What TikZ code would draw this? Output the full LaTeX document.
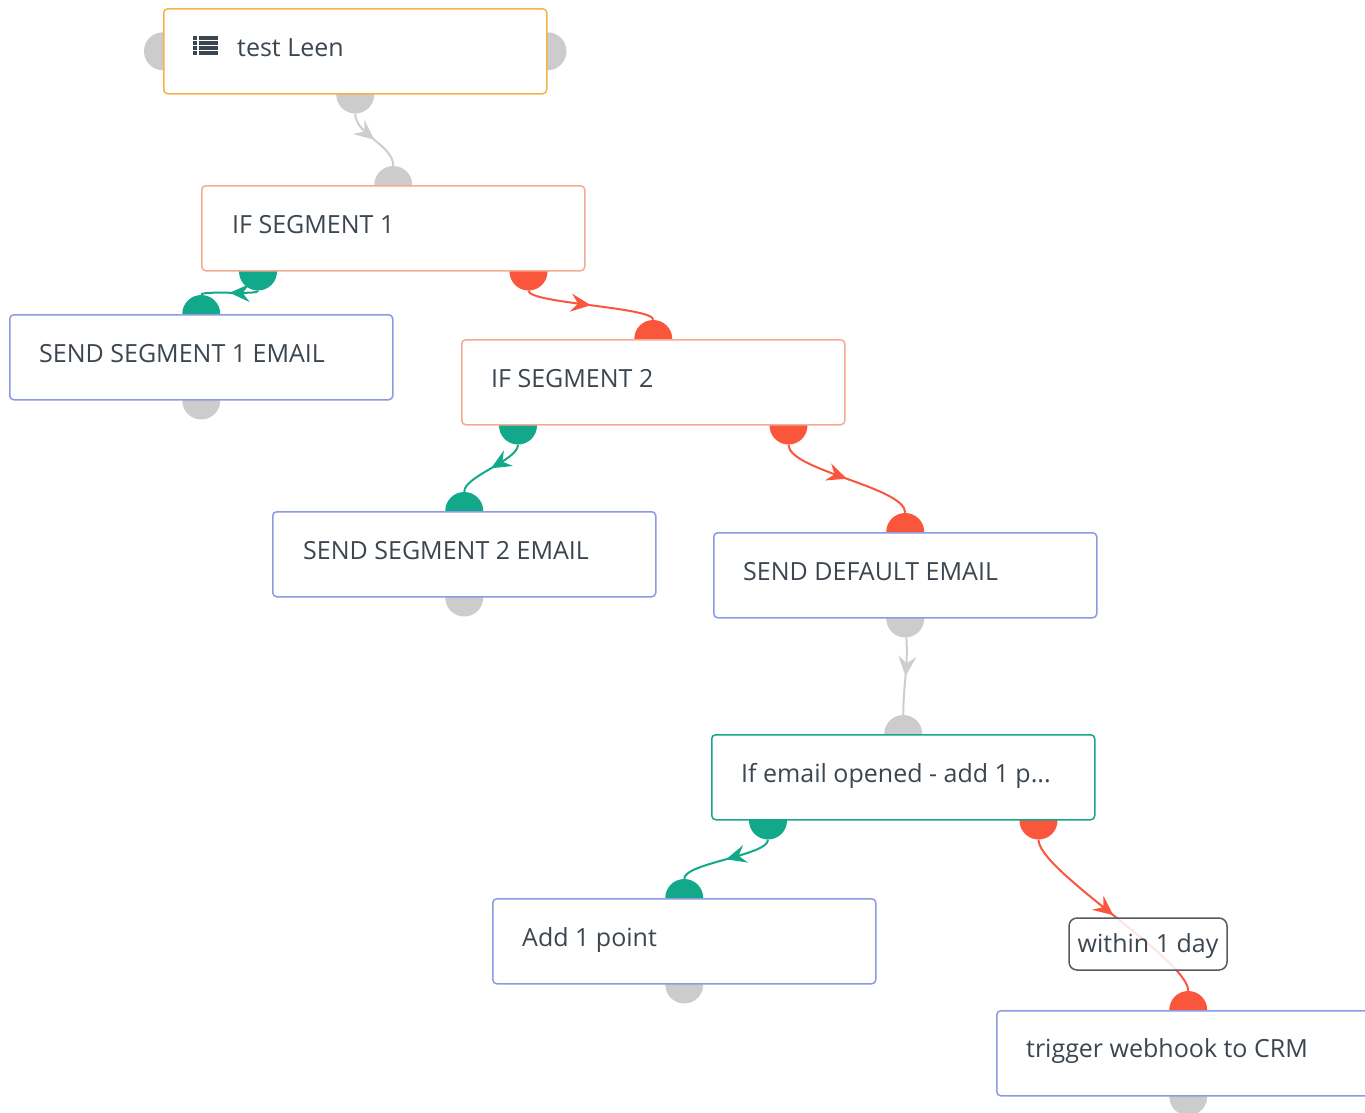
\documentclass[tikz,border=0pt]{standalone}
\usepackage{fontspec}
\setmainfont{Open Sans}
\usetikzlibrary{arrows.meta,decorations.markings,calc}
\definecolor{cgreen}{RGB}{18,168,138}
\definecolor{cred}{RGB}{250,86,60}
\definecolor{cgray}{RGB}{204,204,204}
\definecolor{cline}{RGB}{205,205,205}
\definecolor{ctext}{RGB}{60,70,80}
\definecolor{borange}{RGB}{245,180,70}
\definecolor{bsalmon}{RGB}{245,170,145}
\definecolor{bblue}{RGB}{140,155,225}
\definecolor{bteal}{RGB}{25,165,135}
\definecolor{blabel}{RGB}{85,90,96}
\pgfdeclarelayer{bg}
\pgfsetlayers{bg,main}
\begin{document}
\begin{tikzpicture}[x=1pt,y=-1pt,
  card/.style={draw, fill=white, line width=1.5pt, rounded corners=4pt, minimum width=383pt, minimum height=85pt, anchor=north west, inner sep=0pt},
  txt/.style={anchor=base west, text=ctext, font=\fontsize{25}{30}\selectfont, inner sep=0pt},
  port/.style={circle, minimum size=38pt, inner sep=0pt, draw=none},
  conn/.style={line width=2pt, decoration={markings, mark=at position 0.5 with {\arrow{Stealth[length=20pt,width=18pt,inset=7pt]}}}, postaction=decorate},
  lbl/.style={draw=blabel, line width=1.5pt, rounded corners=8pt, fill=white, fill opacity=0.85, text opacity=1, text=ctext, font=\fontsize{25}{30}\selectfont, minimum width=158pt, minimum height=52pt, inner sep=0pt, text height=20pt, text depth=4pt},
]
\useasboundingbox (0,0) rectangle (1365,1112);
% cards
\node[card, draw=borange] (n1) at (163,8) {};
\node[card, draw=bsalmon] (n2) at (201,185) {};
\node[card, draw=bblue] (n3) at (9,314) {};
\node[card, draw=bsalmon] (n4) at (461,339) {};
\node[card, draw=bblue] (n5) at (272,511) {};
\node[card, draw=bblue] (n6) at (713,532) {};
\node[card, draw=bteal] (n7) at (711,734) {};
\node[card, draw=bblue] (n8) at (492,898) {};
\node[card, draw=bblue] (n9) at (996,1010) {};
% texts
\node[txt] (t1) at ($(n1.north west)+(74,48)$) {test Leen};
\node[txt] (t2) at ($(n2.north west)+(31,48)$) {IF SEGMENT 1};
\node[txt] (t3) at ($(n3.north west)+(30,48)$) {SEND SEGMENT 1 EMAIL};
\node[txt] (t4) at ($(n4.north west)+(30,48)$) {IF SEGMENT 2};
\node[txt] (t5) at ($(n5.north west)+(31,48)$) {SEND SEGMENT 2 EMAIL};
\node[txt] (t6) at ($(n6.north west)+(30,48)$) {SEND DEFAULT EMAIL};
\node[txt] (t7) at ($(n7.north west)+(30,48)$) {If email opened - add 1 p...};
\node[txt] (t8) at ($(n8.north west)+(30,48)$) {Add 1 point};
\node[txt] (t9) at ($(n9.north west)+(30,47)$) {trigger webhook to CRM};
% list icon
\foreach \yy in {28,33,38,43}{
  \fill[ctext] ($(n1.north west)+(30,\yy)$) rectangle ++(4,3.5);
  \fill[ctext] ($(n1.north west)+(36,\yy)$) rectangle ++(19,3.5);
}
\begin{pgfonlayer}{bg}
% ports
\node[port, fill=cgray] (p1l) at (n1.west) {};
\node[port, fill=cgray] (p1r) at (n1.east) {};
\node[port, fill=cgray] (p1b) at (n1.south) {};
\node[port, fill=cgray] (p2t) at (n2.north) {};
\node[port, fill=cgreen] (p2g) at ($(n2.south west)+(57,0)$) {};
\node[port, fill=cred] (p2r) at ($(n2.south east)+(-57,0)$) {};
\node[port, fill=cgreen] (p3t) at (n3.north) {};
\node[port, fill=cgray] (p3b) at (n3.south) {};
\node[port, fill=cred] (p4t) at (n4.north) {};
\node[port, fill=cgreen] (p4g) at ($(n4.south west)+(57,0)$) {};
\node[port, fill=cred] (p4r) at ($(n4.south east)+(-57,0)$) {};
\node[port, fill=cgreen] (p5t) at (n5.north) {};
\node[port, fill=cgray] (p5b) at (n5.south) {};
\node[port, fill=cred] (p6t) at (n6.north) {};
\node[port, fill=cgray] (p6b) at (n6.south) {};
\node[port, fill=cgray] (p7t) at (n7.north) {};
\node[port, fill=cgreen] (p7g) at ($(n7.south west)+(57,0)$) {};
\node[port, fill=cred] (p7r) at ($(n7.south east)+(-57,0)$) {};
\node[port, fill=cgreen] (p8t) at (n8.north) {};
\node[port, fill=cgray] (p8b) at (n8.south) {};
\node[port, fill=cred] (p9t) at (n9.north) {};
\node[port, fill=cgray] (p9b) at (n9.south) {};
% connectors
\draw[conn, cline] (p1b) .. controls +(0,40) and +(0,-40) .. (p2t);
\draw[conn, cgreen] (p2g) .. controls +(0,24) and +(0,-24) .. (p3t);
\draw[conn, cred] (p2r) .. controls +(0,32) and +(0,-32) .. (p4t);
\draw[conn, cgreen] (p4g) .. controls +(0,35) and +(0,-35) .. (p5t);
\draw[conn, cred] (p4r) .. controls +(0,45) and +(0,-45) .. (p6t);
\draw[conn, cline] (p6b) .. controls +(3,50) and +(0,-50) .. (p7t);
\draw[conn, cgreen] (p7g) .. controls +(0,35) and +(0,-35) .. (p8t);
\draw[conn, cred] (p7r) .. controls +(0,50) and +(0,-50) .. (p9t);
\end{pgfonlayer}
\node[lbl] (l1) at (1148,944) {within 1 day};
\end{tikzpicture}
\end{document}
